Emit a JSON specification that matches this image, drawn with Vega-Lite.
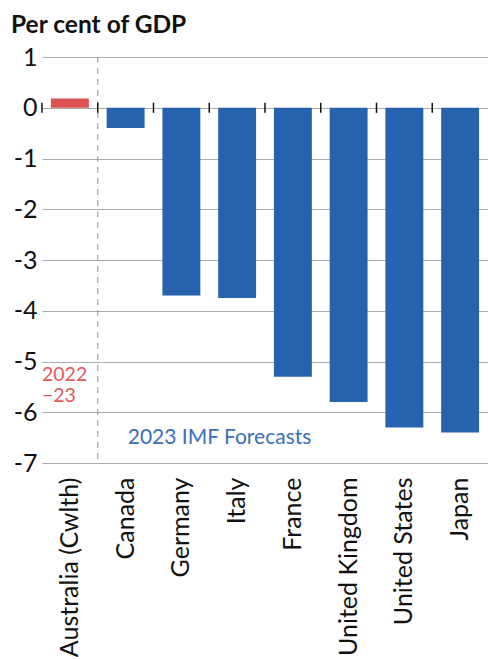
{
  "$schema": "https://vega.github.io/schema/vega-lite/v6.json",
  "autosize": "none",
  "width": 446,
  "height": 406,
  "padding": {"left": 42, "top": 57, "right": 0, "bottom": 196},
  "title": {"text": "Per cent of GDP", "anchor": "start", "frame": "group", "dx": -31, "offset": 7, "fontSize": 24.5, "font": "Lato", "fontWeight": "bold", "color": "#111"},
  "config": {"view": {"stroke": null}, "font": "Lato"},
  "datasets": {
    "main": [
      {"country": "Australia (Cwlth)", "value": 0.18, "type": "2022-23"},
      {"country": "Canada", "value": -0.4, "type": "2023 IMF Forecasts"},
      {"country": "Germany", "value": -3.7, "type": "2023 IMF Forecasts"},
      {"country": "Italy", "value": -3.75, "type": "2023 IMF Forecasts"},
      {"country": "France", "value": -5.3, "type": "2023 IMF Forecasts"},
      {"country": "United Kingdom", "value": -5.8, "type": "2023 IMF Forecasts"},
      {"country": "United States", "value": -6.3, "type": "2023 IMF Forecasts"},
      {"country": "Japan", "value": -6.4, "type": "2023 IMF Forecasts"}
    ]
  },
  "data": {"name": "main"},
  "encoding": {
    "x": {
      "field": "country", "type": "nominal", "sort": null,
      "scale": {"domain": ["Australia (Cwlth)", "Canada", "Germany", "Italy", "France", "United Kingdom", "United States", "Japan"], "paddingInner": 0, "paddingOuter": 0},
      "axis": {"title": null, "labelAngle": -90, "labelAlign": "right", "labelBaseline": "middle", "labelPadding": 14, "labelFontSize": 25, "labelColor": "#111", "ticks": false, "domain": false, "grid": false, "labelFont": "Lato", "labelLimit": 300}
    }
  },
  "layer": [
    {
      "mark": {"type": "bar", "width": {"band": 0.68}},
      "encoding": {
        "y": {
          "field": "value", "type": "quantitative",
          "scale": {"domain": [-7, 1], "nice": false},
          "axis": {"title": null, "values": [-7, -6, -5, -4, -3, -2, -1, 0, 1], "labelExpr": "'' + datum.value", "labelFontSize": 25, "labelColor": "#111", "labelPadding": 5, "ticks": false, "domain": false, "gridColor": "#aaaaaa", "gridWidth": 1, "labelFont": "Lato"}
        },
        "color": {"field": "type", "type": "nominal", "scale": {"domain": ["2022-23", "2023 IMF Forecasts"], "range": ["#DC5252", "#2662AD"]}, "legend": null}
      }
    },
    {
      "data": {"values": [{"country": "Canada"}]},
      "mark": {"type": "rule", "color": "#999999", "strokeDash": [6, 5], "strokeWidth": 1},
      "encoding": {"x": {"field": "country", "type": "nominal", "bandPosition": 0}}
    },
    {
      "mark": {"type": "rule", "color": "#111111", "strokeWidth": 2},
      "encoding": {"y": {"datum": 0}}
    },
    {
      "mark": {"type": "rule", "color": "#111111", "strokeWidth": 1.5},
      "encoding": {
        "x": {"field": "country", "type": "nominal", "bandPosition": 0},
        "y": {"datum": 0.1},
        "y2": {"datum": -0.1}
      }
    },
    {
      "data": {"values": [{"country": "Australia (Cwlth)", "label": ["2022", "\u221223"], "pos": -5.27}]},
      "mark": {"type": "text", "align": "left", "baseline": "middle", "fontSize": 19.5, "color": "#E05A5A", "lineHeight": 21, "dx": 0},
      "encoding": {
        "x": {"field": "country", "type": "nominal", "bandPosition": 0},
        "y": {"field": "pos", "type": "quantitative"},
        "text": {"field": "label"}
      }
    },
    {
      "data": {"values": [{"country": "Canada", "label": "2023 IMF Forecasts", "pos": -6.5}]},
      "mark": {"type": "text", "align": "left", "baseline": "middle", "fontSize": 21, "color": "#3A6FB8", "dx": 30},
      "encoding": {
        "x": {"field": "country", "type": "nominal", "bandPosition": 0},
        "y": {"field": "pos", "type": "quantitative"},
        "text": {"field": "label"}
      }
    }
  ]
}
